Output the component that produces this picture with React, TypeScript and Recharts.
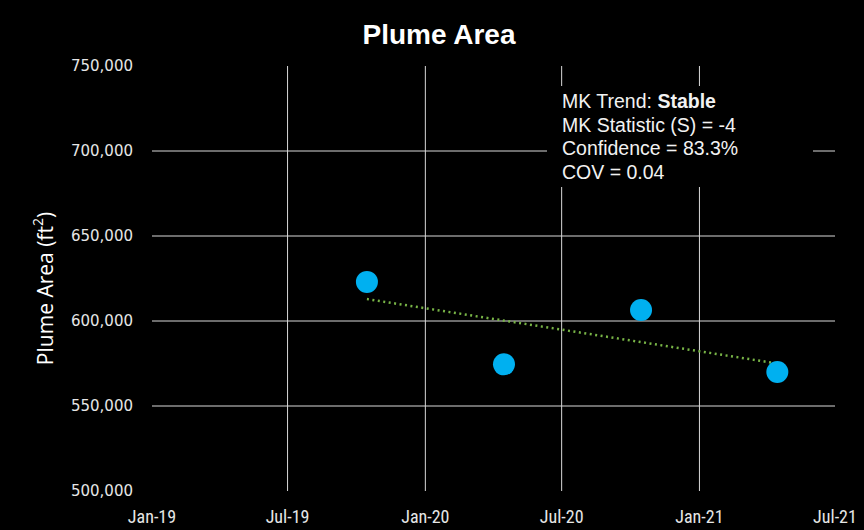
import { ScatterChart, Scatter, XAxis, YAxis, CartesianGrid } from "recharts"

const sampleDates = ["2019-10-15", "2020-04-15", "2020-10-15", "2021-04-15"]
const plumeAreas = [623000, 574500, 606500, 570000]

// trend line end points
const trendDates = ["2019-10-15", "2021-04-15"]
const trendAreas = [612900, 575000]

const xTickDates = ["2019-01-01", "2019-07-01", "2020-01-01", "2020-07-01", "2021-01-01", "2021-07-01"]
const xTickLabels = ["Jan-19", "Jul-19", "Jan-20", "Jul-20", "Jan-21", "Jul-21"]
const yTicks = [500000, 550000, 600000, 650000, 700000, 750000]

const statLines = ["MK Statistic (S) = -4", "Confidence = 83.3%", "COV = 0.04"]

const toTime = (s: string) => new Date(s + "T00:00:00Z").getTime()

const points = sampleDates.map((d, i) => ({ t: toTime(d), area: plumeAreas[i] }))
const trend = trendDates.map((d, i) => ({ t: toTime(d), area: trendAreas[i] }))
const xTicks = xTickDates.map(toTime)

const labelFor = (t: number) => {
  const i = xTicks.indexOf(t)
  return i >= 0 ? xTickLabels[i] : ""
}

function YLabel(props: any) {
  const vb = props.viewBox || { x: 0, y: 66, height: 425 }
  const cx = 45
  const cy = vb.y + vb.height / 2 + 10
  return (
    <text
      x={cx}
      y={cy}
      transform={`rotate(-90 ${cx} ${cy})`}
      textAnchor="middle"
      dominantBaseline="central"
      fill="#ffffff"
      fontSize={21}
      fontFamily="'Open Sans', 'DejaVu Sans', sans-serif"
    >
      Plume Area (ft
      <tspan dy={-8} fontSize={14}>2</tspan>
      <tspan dy={8}>)</tspan>
    </text>
  )
}

export default function App() {
  return (
    <div style={{ position: "absolute", left: 0, top: 0, width: 864, height: 530, background: "#000", overflow: "hidden" }}>
      <ScatterChart width={864} height={530} margin={{ top: 66, right: 29, left: 0, bottom: 0 }}>
        <CartesianGrid
          stroke="#d9d9d9"
          strokeWidth={1}
          horizontalValues={[550000, 600000, 650000, 700000]}
          verticalValues={xTicks.slice(1, -1)}
        />
        <XAxis
          type="number"
          dataKey="t"
          domain={[xTicks[0], xTicks[xTicks.length - 1]]}
          ticks={xTicks}
          interval={0}
          tickFormatter={labelFor}
          axisLine={false}
          tickLine={false}
          tickSize={0}
          tickMargin={19}
          height={39}
          tick={{ fill: "#e6e6e6", fontSize: 18, fontFamily: "'Liberation Sans Narrow', 'Roboto Condensed', sans-serif" }}
        />
        <YAxis
          type="number"
          dataKey="area"
          domain={[500000, 750000]}
          ticks={yTicks}
          interval={0}
          tickFormatter={(v: number) => v.toLocaleString("en-US")}
          axisLine={false}
          tickLine={false}
          tickSize={0}
          tickMargin={19}
          width={152}
          tick={{ fill: "#e6e6e6", fontSize: 15, fontFamily: "'DejaVu Sans', sans-serif" }}
          label={<YLabel />}
        />
        <Scatter
          data={trend}
          isAnimationActive={false}
          line={{ stroke: "#78b446", strokeWidth: 2.5, strokeDasharray: "2 3.5" }}
          shape={() => <g />}
        />
        <Scatter
          data={points}
          isAnimationActive={false}
          shape={(p: any) => <circle cx={p.cx} cy={p.cy} r={11} fill="#00b0f0" />}
        />
      </ScatterChart>

      <div
        style={{
          position: "absolute",
          left: 0,
          top: 19,
          width: 878,
          textAlign: "center",
          color: "#fff",
          fontFamily: "'Liberation Sans', Arial, sans-serif",
          fontWeight: "bold",
          fontSize: 28,
          lineHeight: "32px",
        }}
      >
        Plume Area
      </div>

      <div
        style={{
          position: "absolute",
          left: 547,
          top: 86,
          width: 266,
          height: 101,
          background: "#000",
          boxSizing: "border-box",
          paddingLeft: 15,
          paddingTop: 4,
          color: "#f2f2f2",
          fontFamily: "'Liberation Sans', Arial, sans-serif",
          fontSize: 19.5,
          lineHeight: "23.5px",
        }}
      >
        <div>
          MK Trend: <b>Stable</b>
        </div>
        {statLines.map((l) => (
          <div key={l}>{l}</div>
        ))}
      </div>
    </div>
  )
}
